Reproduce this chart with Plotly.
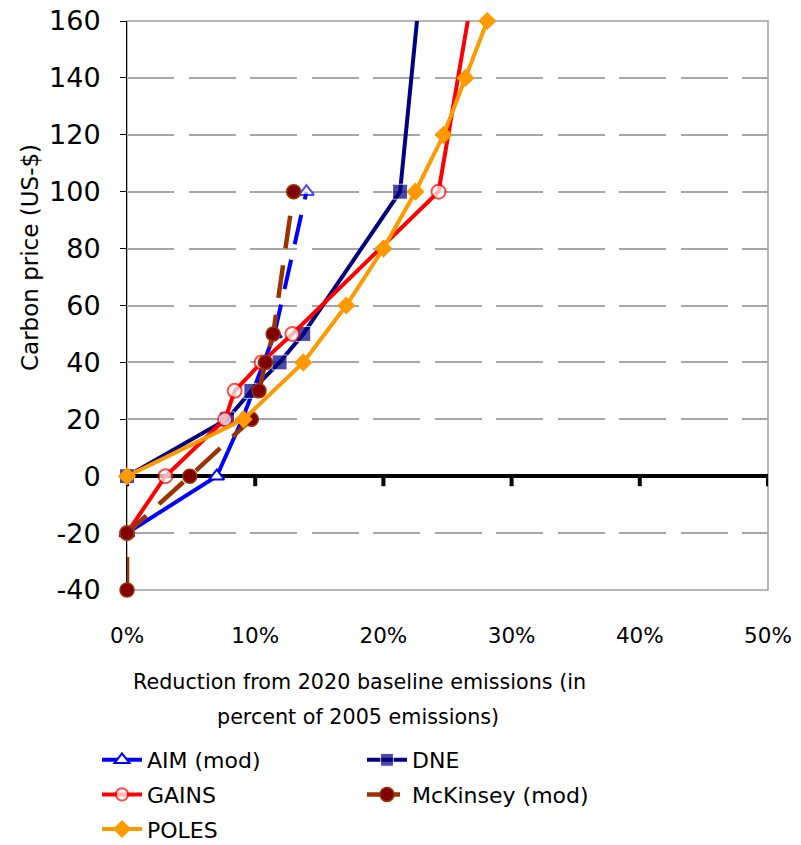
import plotly.graph_objects as go

# ---------------- data ----------------
aim_x = [0, 7.0, 9.0, 11.5, 14.0]
aim_y = [-20, 0, 20, 50, 100]

dne_x = [0, 7.8, 9.7, 11.9, 13.75, 21.3, 23.5]
dne_y = [0, 20, 30, 40, 50, 100, 200]

gains_x = [0, 3.0, 7.65, 8.4, 10.5, 12.9, 24.3, 28.1]
gains_y = [-20, 0, 20, 30, 40, 50, 100, 200]

mck_x = [0, 0, 4.9, 9.7, 10.3, 10.8, 11.4, 13.0]
mck_y = [-40, -20, 0, 20, 30, 40, 50, 100]

poles_x = [0, 9.1, 13.75, 17.1, 20.0, 22.5, 24.7, 26.4, 28.1]
poles_y = [0, 20, 40, 60, 80, 100, 120, 140, 160]

x_ticks = [0, 10, 20, 30, 40, 50]
x_tick_labels = ["0%", "10%", "20%", "30%", "40%", "50%"]
y_ticks = [-40, -20, 0, 20, 40, 60, 80, 100, 120, 140, 160]
y_tick_labels = ["-40", "-20", "0", "20", "40", "60", "80", "100", "120", "140", "160"]
y_max = 160

# ---------------- layout constants ----------------
W, H = 801, 845
L, R, T, B = 127, 33, 21, 255
PW, PH = W - L - R, H - T - B
FONT = "DejaVu Sans"


def px2x(px):
    return (px - L) / PW


def py2y(py):
    return (H - B - py) / PH


def sizes(ys, s):
    return [s if y <= y_max else 0 for y in ys]


fig = go.Figure()

# AIM (mod): solid part + dashed last segment
fig.add_trace(go.Scatter(
    x=aim_x[:4], y=aim_y[:4], name="AIM (mod)", mode="lines+markers",
    legend="legend", legendgroup="aim",
    line=dict(color="#0000FF", width=4),
    marker=dict(symbol="triangle-up", size=13, color="white",
                line=dict(color="#0000FF", width=2)),
    cliponaxis=False))
fig.add_trace(go.Scatter(
    x=aim_x[3:], y=aim_y[3:], name="AIM (mod)", mode="lines+markers",
    showlegend=False, legendgroup="aim",
    line=dict(color="#0000FF", width=4, dash="30px,16px"),
    marker=dict(symbol="triangle-up", size=[0, 13], color="white",
                line=dict(color="#0000FF", width=2)),
    cliponaxis=False))

fig.add_trace(go.Scatter(
    x=dne_x, y=dne_y, name="DNE", mode="lines+markers",
    legend="legend2", legendgroup="dne",
    line=dict(color="#000080", width=4),
    marker=dict(symbol="square", size=sizes(dne_y, 15), color="#000080"),
    cliponaxis=False))

fig.add_trace(go.Scatter(
    x=gains_x, y=gains_y, name="GAINS", mode="lines+markers",
    legend="legend", legendgroup="gains",
    line=dict(color="#FF0000", width=4),
    marker=dict(symbol="circle", size=sizes(gains_y, 14), color="white",
                line=dict(color="#FF0000", width=2)),
    cliponaxis=False))

fig.add_trace(go.Scatter(
    x=mck_x, y=mck_y, name="McKinsey (mod)", mode="lines+markers",
    legend="legend2", legendgroup="mck",
    line=dict(color="#993300", width=4.5, dash="33px,17px"),
    marker=dict(symbol="circle", size=14, color="#800000",
                line=dict(color="#993300", width=1.5)),
    cliponaxis=False))

fig.add_trace(go.Scatter(
    x=poles_x, y=poles_y, name="POLES", mode="lines+markers",
    legend="legend", legendgroup="poles",
    line=dict(color="#FF9900", width=4),
    marker=dict(symbol="diamond", size=14, color="#FF9900"),
    cliponaxis=False))

# ---------------- shapes ----------------
shapes = [dict(type="rect", xref="paper", yref="paper", x0=0, x1=1, y0=0, y1=1,
               line=dict(color="#A0A0A0", width=1.5), layer="between")]
for t in x_ticks:
    shapes.append(dict(type="line", xref="x", yref="y", ysizemode="pixel",
                       yanchor=0, x0=t, x1=t, y0=0, y1=-10,
                       line=dict(color="black", width=4), layer="between"))

annotations = [
    dict(text="Reduction from 2020 baseline emissions (in", xref="paper", yref="paper",
         x=px2x(359), y=py2y(682), showarrow=False, xanchor="center", yanchor="middle",
         font=dict(family=FONT, size=20.7, color="black")),
    dict(text="percent of 2005 emissions)", xref="paper", yref="paper",
         x=px2x(358), y=py2y(717), showarrow=False, xanchor="center", yanchor="middle",
         font=dict(family=FONT, size=20.7, color="black")),
    dict(text="Carbon price (US-$)", xref="paper", yref="paper",
         x=px2x(30), y=py2y(258), showarrow=False, xanchor="center", yanchor="middle",
         textangle=-90, font=dict(family=FONT, size=23, color="black")),
]

fig.update_layout(
    width=W, height=H,
    margin=dict(l=L, r=R, t=T, b=B, pad=0, autoexpand=False),
    paper_bgcolor="white", plot_bgcolor="white",
    font=dict(family=FONT, color="black"),
    shapes=shapes, annotations=annotations,
    xaxis=dict(range=[0, 50], tickvals=x_ticks, ticktext=x_tick_labels,
               showgrid=False, zeroline=False, showline=False, ticks="",
               tickfont=dict(family=FONT, size=21.5, color="black"),
               ticklabelstandoff=30, automargin=False),
    yaxis=dict(range=[-40, 160], tickvals=y_ticks, ticktext=y_tick_labels,
               showgrid=True,
               gridcolor="#A6A6A6", gridwidth=1.5, griddash="47px,14.5px",
               zeroline=True, zerolinecolor="black", zerolinewidth=4,
               showline=True, linecolor="black", linewidth=1, layer="below traces",
               ticks="outside", ticklen=6, tickcolor="black", tickwidth=1,
               tickfont=dict(family=FONT, size=27, color="black"),
               ticklabelstandoff=14, automargin=False),
    legend=dict(x=px2x(97), y=py2y(739), xanchor="left", yanchor="top",
                orientation="v", tracegroupgap=3, bgcolor="rgba(0,0,0,0)",
                font=dict(family=FONT, size=22, color="black"), itemwidth=40),
    legend2=dict(x=px2x(362), y=py2y(739), xanchor="left", yanchor="top",
                 orientation="v", tracegroupgap=3, bgcolor="rgba(0,0,0,0)",
                 font=dict(family=FONT, size=22, color="black"), itemwidth=40),
)

fig.write_html("out.html")
